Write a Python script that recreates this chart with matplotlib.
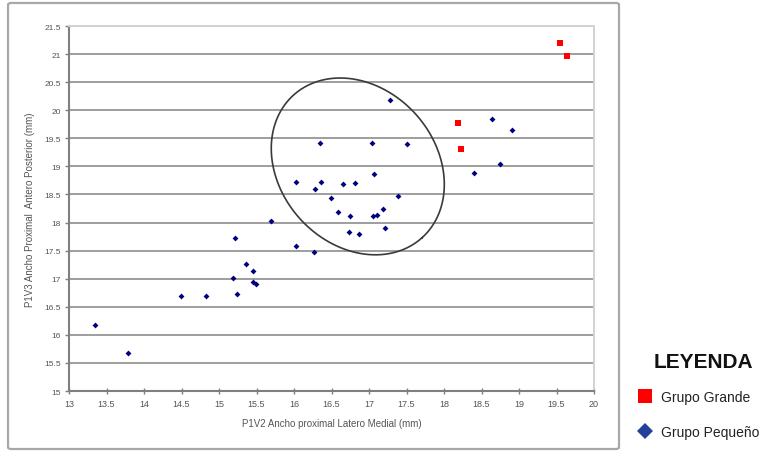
import numpy as np
import matplotlib
matplotlib.use("Agg")
import matplotlib.pyplot as plt
from matplotlib.patches import FancyBboxPatch
from matplotlib.lines import Line2D

plt.rcParams['font.family'] = ['Liberation Sans', 'DejaVu Sans']

# Large group (red squares)
grande_x = [19.55, 19.64, 18.19, 18.22]
grande_y = [21.20, 20.96, 19.77, 19.31]

# Small group (blue diamonds)
pequeno_x = [18.64, 18.91, 18.75, 18.40, 17.28, 16.35, 17.04, 17.51, 17.06,
             16.03, 16.36, 16.28, 16.65, 16.81, 16.49, 17.38, 16.59, 16.75,
             17.05, 17.11, 17.19, 16.73, 16.87, 17.21, 15.69, 16.03, 16.27,
             15.21, 15.36, 15.45, 15.19, 15.45, 15.49, 15.24, 14.49, 14.82,
             13.35, 13.78]
pequeno_y = [19.84, 19.65, 19.04, 18.88, 20.19, 19.42, 19.42, 19.40, 18.86,
             18.73, 18.73, 18.60, 18.68, 18.70, 18.43, 18.47, 18.18, 18.12,
             18.12, 18.13, 18.24, 17.83, 17.80, 17.90, 18.03, 17.59, 17.48,
             17.73, 17.27, 17.14, 17.02, 16.94, 16.90, 16.73, 16.69, 16.69,
             16.17, 15.68]

x_ticks = np.arange(13, 20.01, 0.5)
y_ticks = np.arange(15, 21.51, 0.5)

def fmt(v):
    return f"{v:g}"

fig = plt.figure(figsize=(7.8, 4.52), dpi=100)
fig.patch.set_facecolor('white')

# Outer chart frame
frame = FancyBboxPatch((0.0103, 0.0044), 0.7833, 0.9868,
                       boxstyle="round,pad=0,rounding_size=0.004",
                       transform=fig.transFigure, fill=False,
                       edgecolor='#a8a8a8', linewidth=1.6)
fig.add_artist(frame)

ax = fig.add_axes([0.0885, 0.1327, 0.6731, 0.8075])
ax.set_xlim(13, 20)
ax.set_ylim(15, 21.5)
ax.set_xticks(x_ticks)
ax.set_yticks(y_ticks)
ax.set_xticklabels([fmt(v) for v in x_ticks])
ax.set_yticklabels([fmt(v) for v in y_ticks])

ax.set_axisbelow(True)
ax.yaxis.grid(True, color='#9e9e9e', linewidth=1.4)

for side in ('left', 'bottom'):
    ax.spines[side].set_color('#7f7f7f')
    ax.spines[side].set_linewidth(1.5)
for side in ('top', 'right'):
    ax.spines[side].set_color('#d2d2d2')
    ax.spines[side].set_linewidth(1.4)

ax.tick_params(axis='y', direction='out', length=3, width=1, color='#7f7f7f',
               labelsize=6, labelcolor='#555555', pad=3)
ax.tick_params(axis='x', direction='inout', length=4, width=1, color='#7f7f7f',
               labelsize=6.5, labelcolor='#555555', pad=4)

# Data points
ax.plot(pequeno_x, pequeno_y, linestyle='none', marker='D', markersize=3.0,
        color='#000080', markeredgewidth=0, zorder=3)
ax.plot(grande_x, grande_y, linestyle='none', marker='s', markersize=5,
        color='#ff0000', markeredgewidth=0, zorder=3)

# Hand-drawn cluster ellipse (defined in screen proportions, then mapped to data)
px_per_x = 75.0
px_per_y = 56.15
cx, cy = 16.85, 19.00
a_px, b_px, theta = 96.0, 78.0, np.deg2rad(48.0)
t = np.linspace(0, 2 * np.pi, 400)
dx = a_px * np.cos(theta) * np.cos(t) - b_px * np.sin(theta) * np.sin(t)
dy = a_px * np.sin(theta) * np.cos(t) + b_px * np.cos(theta) * np.sin(t)
ax.plot(cx + dx / px_per_x, cy - dy / px_per_y, color='#3a3a3a',
        linewidth=1.2, zorder=2)

ax.set_xlabel('P1V2 Ancho proximal Latero Medial (mm)', fontsize=7,
              color='#555555')
ax.xaxis.set_label_coords(0.5, -0.088)
ax.xaxis.label.set_verticalalignment('center')
ax.set_ylabel('P1V3 Ancho Proximal  Antero Posterior (mm)', fontsize=7,
              color='#555555')
ax.yaxis.set_label_coords(-0.074, 0.5)
ax.yaxis.label.set_verticalalignment('center')

# Legend outside the chart frame
fig.text(703 / 780, 1 - 363 / 452, 'LEYENDA', fontsize=15, fontweight='bold',
         ha='center', va='center', color='#111111')
leg_handles = [
    Line2D([], [], linestyle='none', marker='s', markersize=10,
           color='#ff0000', markeredgewidth=0),
    Line2D([], [], linestyle='none', marker='D', markersize=8,
           color='#23409a', markeredgewidth=0),
]
leg = fig.legend(leg_handles, ['Grupo Grande', 'Grupo Pequeño'],
                 loc='upper left', bbox_to_anchor=(637 / 780, 1 - 391 / 452),
                 frameon=False, fontsize=10, handlelength=1.2,
                 handletextpad=0.5, labelspacing=1.5, borderaxespad=0,
                 borderpad=0)
for txt in leg.get_texts():
    txt.set_color('#222222')

fig.savefig('out.png', dpi=100, facecolor='white')
